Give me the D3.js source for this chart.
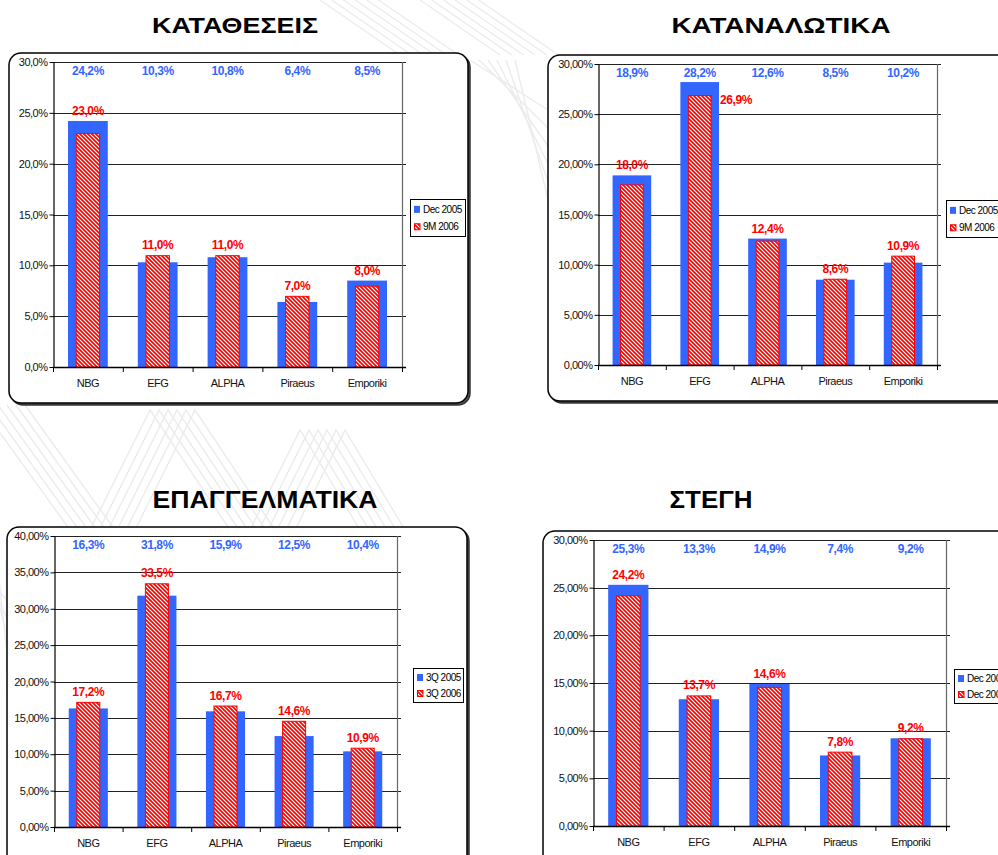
<!DOCTYPE html>
<html><head><meta charset="utf-8">
<script src="https://cdn.jsdelivr.net/npm/d3@7"></script>
<style>
body{margin:0;background:#fff;}
svg{display:block;font-family:"Liberation Sans",Arial,sans-serif;}
</style>
</head><body>
<svg id="chart" width="998" height="855"></svg>
<script>
// ---------- DATA ----------
const categories = ["NBG", "EFG", "ALPHA", "Piraeus", "Emporiki"];
const titles = ["ΚΑΤΑΘΕΣΕΙΣ", "ΚΑΤΑΝΑΛΩΤΙΚΑ", "ΕΠΑΓΓΕΛΜΑΤΙΚΑ", "ΣΤΕΓΗ"];
const seriesNames = [["Dec 2005", "9M 2006"], ["Dec 2005", "9M 2006"], ["3Q 2005", "3Q 2006"], ["Dec 2005", "Dec 2006"]];
const depositsFirst   = [24.2, 10.3, 10.8, 6.4, 8.5];
const depositsSecond  = [23.0, 11.0, 11.0, 7.0, 8.0];
const consumerFirst   = [18.9, 28.2, 12.6, 8.5, 10.2];
const consumerSecond  = [18.0, 26.9, 12.4, 8.6, 10.9];
const businessFirst   = [16.3, 31.8, 15.9, 12.5, 10.4];
const businessSecond  = [17.2, 33.5, 16.7, 14.6, 10.9];
const mortgageFirst   = [25.3, 13.3, 14.9, 7.4, 9.2];
const mortgageSecond  = [24.2, 13.7, 14.6, 7.8, 9.2];
const axisMax = [30, 30, 40, 30];
const axisStep = [5, 5, 5, 5];
const axisDecimals = [1, 2, 2, 2];

const firstSeries = [depositsFirst, consumerFirst, businessFirst, mortgageFirst];
const secondSeries = [depositsSecond, consumerSecond, businessSecond, mortgageSecond];

// ---------- LAYOUT ----------
const layout = [
  {frame: [9, 53, 459, 350],  plot: [53, 62, 402, 367],   legend: [410, 199, 55, 37], title: [235, 33, 166, 22]},
  {frame: [548, 55, 475, 346], plot: [598, 64, 937, 365],  legend: [946, 200, 62, 37], title: [781, 33, 219, 22]},
  {frame: [7, 527, 460, 345],  plot: [54, 536, 397, 827],  legend: [413, 668, 50, 34], title: [265, 508, 225, 24]},
  {frame: [543, 531, 475, 345], plot: [593, 540, 946, 826], legend: [954, 669, 62, 34], title: [711, 508, 83, 24]}
];
const BLUE = "#3366ff", RED = "#ff0000";

const svg = d3.select("#chart");
const defs = svg.append("defs");
const pat = defs.append("pattern").attr("id", "hatch").attr("patternUnits", "userSpaceOnUse")
  .attr("width", 4).attr("height", 4);
pat.append("rect").attr("width", 4).attr("height", 4).attr("fill", RED);
pat.append("path").attr("d", "M-1,-1 L5,5 M-1,3 L1,5 M3,-1 L5,1")
  .attr("stroke", "#fff").attr("stroke-width", 1.1);

// ---------- faint background decoration ----------
const deco = svg.append("g").attr("fill", "none").attr("stroke", "#ececec").attr("stroke-width", 1.4);
for (let k = 0; k < 6; k++) {
  const o = k * 9;
  deco.append("path").attr("d", `M${-20 + o},405 L${70 + o},530`);
  deco.append("path").attr("d", `M${90 + o},530 L${150 + o},410 L${230 + o},530`);
  deco.append("path").attr("d", `M${250 + o},530 L${300 + o},430 L${360 + o},530`);
  deco.append("path").attr("d", `M${320 + o * 1.3},0 L${400 + o * 1.3},55`);
  deco.append("path").attr("d", `M${420 + o * 1.3},0 L${500 + o * 1.3},55`);
  deco.append("path").attr("d", `M${470 + o},60 L${548},${110 + o * 2}`);
  deco.append("path").attr("d", `M${-30 + o},560 L${7},${600 + o * 2}`);
}

const locale = d3.formatLocale({decimal: ",", thousands: ".", grouping: [3], currency: ["", "€"]});

titles.forEach((title, i) => {
  const L = layout[i];
  const first = firstSeries[i], second = secondSeries[i];
  const g = svg.append("g");

  // frame with shadow
  const [fx, fy, fw, fh] = L.frame;
  g.append("rect").attr("x", fx + 2).attr("y", fy + 2).attr("width", fw).attr("height", fh)
    .attr("rx", 12).attr("fill", "#555").attr("stroke", "#333").attr("stroke-width", 1.5);
  g.append("rect").attr("x", fx).attr("y", fy).attr("width", fw).attr("height", fh)
    .attr("rx", 12).attr("fill", "#fff").attr("stroke", "#000").attr("stroke-width", 1.5);

  // title
  g.append("text").attr("x", L.title[0]).attr("y", L.title[1]).attr("text-anchor", "middle")
    .attr("font-weight", "bold").attr("font-size", L.title[3])
    .attr("textLength", L.title[2]).attr("lengthAdjust", "spacingAndGlyphs")
    .attr("fill", "#000").text(title);

  const [x0, y0, x1, y1] = L.plot;
  const x = d3.scaleBand().domain(categories).range([x0, x1]);
  const y = d3.scaleLinear().domain([0, axisMax[i]]).range([y1, y0]);
  const ticks = d3.range(0, axisMax[i] + 1e-9, axisStep[i]);
  const bw = x.bandwidth();

  // gridlines (extend a little past right edge like tick marks)
  g.append("g").selectAll("line").data(ticks).join("line")
    .attr("x1", x0).attr("x2", x1 + 4)
    .attr("y1", d => Math.round(y(d)) + 0.5).attr("y2", d => Math.round(y(d)) + 0.5)
    .attr("stroke", "#222").attr("stroke-width", 1);
  // right border
  g.append("line").attr("x1", x1 + 0.5).attr("x2", x1 + 0.5).attr("y1", y0).attr("y2", y1)
    .attr("stroke", "#666").attr("stroke-width", 1.2);

  // y axis
  const fmt = locale.format(`.${axisDecimals[i]}f`);
  const yAxis = d3.axisLeft(y).tickValues(ticks).tickSize(4).tickSizeOuter(0).tickPadding(2)
    .tickFormat(d => fmt(d) + "%");
  const ya = g.append("g").attr("transform", `translate(${x0 + 0.5},0)`).call(yAxis);
  ya.select(".domain").attr("stroke", "#000").attr("stroke-width", 1.2);
  ya.selectAll(".tick line").attr("stroke", "#000");
  ya.selectAll(".tick text").attr("font-size", 11).attr("letter-spacing", "-0.5px")
    .attr("font-family", "'Liberation Sans', Arial, sans-serif").attr("fill", "#111");

  // bars: first series (solid blue)
  const wA = bw * 0.57, wB = bw * 0.35;
  g.append("g").selectAll("rect").data(first).join("rect")
    .attr("x", (d, j) => x(categories[j]) + (bw - wA) / 2)
    .attr("y", d => y(d)).attr("width", wA).attr("height", d => y(0) - y(d))
    .attr("fill", BLUE);
  // second series (hatched red)
  g.append("g").selectAll("rect").data(second).join("rect")
    .attr("x", (d, j) => x(categories[j]) + (bw - wB) / 2 + 0.5)
    .attr("y", d => y(d) + 0.5).attr("width", wB - 1).attr("height", d => y(0) - y(d) - 0.5)
    .attr("fill", "url(#hatch)").attr("stroke", RED).attr("stroke-width", 1);

  // x axis line and boundary ticks
  g.append("line").attr("x1", x0).attr("x2", x1 + 4).attr("y1", y1 + 0.5).attr("y2", y1 + 0.5)
    .attr("stroke", "#000").attr("stroke-width", 1.4);
  const bounds = categories.map(c => x(c)).concat([x1]);
  g.append("g").selectAll("line").data(bounds).join("line")
    .attr("x1", d => d + 0.5).attr("x2", d => d + 0.5).attr("y1", y1).attr("y2", y1 + 5)
    .attr("stroke", "#000").attr("stroke-width", 1);
  const xAxis = d3.axisBottom(x).tickSize(0).tickPadding(12);
  const xa = g.append("g").attr("transform", `translate(0,${y1})`).call(xAxis);
  xa.select(".domain").remove();
  xa.selectAll(".tick text").attr("font-size", 11).attr("letter-spacing", "-0.5px")
    .attr("font-family", "'Liberation Sans', Arial, sans-serif").attr("fill", "#111");

  // labels for first series: row along the top
  const labFmt = locale.format(".1f");
  const topRow = y0 + 13;
  g.append("g").selectAll("text").data(first).join("text")
    .attr("x", (d, j) => x(categories[j]) + bw / 2).attr("y", topRow)
    .attr("text-anchor", "middle").attr("font-weight", "bold").attr("font-size", 12)
    .attr("letter-spacing", "-0.4px").attr("fill", BLUE)
    .text(d => labFmt(d) + "%");

  // labels for second series: above the taller bar, or beside it if it would collide
  g.append("g").selectAll("text").data(second).join("text")
    .each(function (d, j) {
      const t = d3.select(this);
      const top = Math.min(y(d), y(first[j]));
      const cx = x(categories[j]) + bw / 2;
      if (top - 6 < topRow + 14) {
        t.attr("x", cx + wA / 2 + 1).attr("y", y(d) + 9).attr("text-anchor", "start");
      } else {
        t.attr("x", cx).attr("y", top - 6).attr("text-anchor", "middle");
      }
    })
    .attr("font-weight", "bold").attr("font-size", 12).attr("letter-spacing", "-0.4px")
    .attr("fill", RED).text(d => labFmt(d) + "%");

  // legend
  const [lx, ly, lw, lh] = L.legend;
  const lg = g.append("g");
  lg.append("rect").attr("x", lx + 1).attr("y", ly + 1).attr("width", lw).attr("height", lh)
    .attr("fill", "#999");
  lg.append("rect").attr("x", lx + 0.5).attr("y", ly + 0.5).attr("width", lw).attr("height", lh)
    .attr("fill", "#fff").attr("stroke", "#000").attr("stroke-width", 1);
  const rowY = [ly + lh * 0.28, ly + lh * 0.75];
  lg.append("rect").attr("x", lx + 4).attr("y", rowY[0] - 3.5).attr("width", 6).attr("height", 7).attr("fill", BLUE);
  lg.append("rect").attr("x", lx + 4.5).attr("y", rowY[1] - 3).attr("width", 5.5).attr("height", 6)
    .attr("fill", "url(#hatch)").attr("stroke", RED).attr("stroke-width", 1);
  lg.selectAll("text").data(seriesNames[i]).join("text")
    .attr("x", lx + 13).attr("y", (d, k) => rowY[k] + 3.5)
    .attr("font-size", 10).attr("letter-spacing", "-0.5px").attr("fill", "#000")
    .text(d => d);
});
</script>
</body></html>
